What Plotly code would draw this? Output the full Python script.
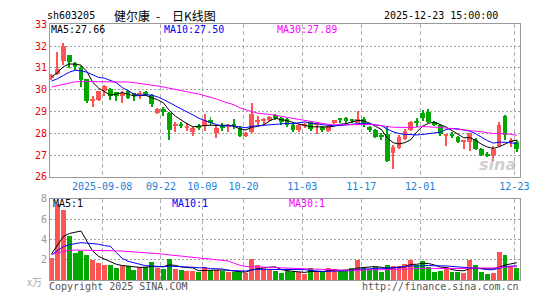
import plotly.graph_objects as go
import pandas as pd
import numpy as np

# ---------------- data ----------------
opens = [30.53, 30.71, 31.30, 31.59, 31.22, 30.96, 30.49, 29.47, 29.53, 29.93,
         30.00, 29.86, 29.72, 29.94, 29.82, 29.78, 29.90, 29.74, 28.91, 29.12,
         28.92, 28.31, 28.37, 28.22, 28.07, 28.28, 28.31, 28.59, 28.01, 28.30,
         28.30, 28.42, 28.22, 27.85, 28.05, 28.51, 28.59, 28.60, 28.83, 28.70,
         28.66, 28.39, 28.12, 28.30, 28.49, 28.37, 28.27, 28.10, 28.47, 28.69,
         28.71, 28.60, 28.47, 28.66, 28.27, 28.15, 27.88, 27.95, 27.10, 27.32,
         27.72, 28.12, 28.50, 28.90, 28.98, 28.49, 28.39, 27.88, 27.92, 27.80,
         27.60, 27.61, 27.69, 27.28, 27.00, 26.99, 27.40, 28.80, 27.60, 27.58]
highs = [30.70, 31.71, 32.15, 31.60, 31.25, 31.07, 30.50, 29.69, 29.94, 30.19,
         30.08, 29.90, 29.95, 29.97, 29.85, 29.94, 29.93, 29.80, 29.13, 29.20,
         28.96, 28.52, 28.50, 28.48, 28.29, 28.40, 28.86, 28.72, 28.37, 28.46,
         28.42, 28.65, 28.30, 28.05, 29.38, 28.79, 28.70, 28.77, 28.86, 28.73,
         28.68, 28.42, 28.40, 28.48, 28.56, 28.42, 28.34, 28.38, 28.60, 28.70,
         28.72, 28.64, 29.03, 28.74, 28.30, 28.17, 28.00, 28.34, 27.47, 27.90,
         28.17, 28.56, 28.71, 29.07, 29.10, 28.55, 28.42, 27.92, 28.05, 27.86,
         27.63, 28.00, 27.76, 27.32, 27.13, 27.40, 28.50, 28.82, 27.75, 27.68]
lows = [30.45, 30.65, 31.10, 31.00, 30.88, 30.09, 29.38, 29.20, 29.46, 29.68,
        29.53, 29.49, 29.40, 29.57, 29.48, 29.58, 29.72, 29.19, 28.86, 28.80,
        27.70, 28.06, 28.21, 28.08, 27.85, 28.14, 28.10, 28.33, 27.79, 28.08,
        28.06, 28.20, 27.80, 27.82, 28.00, 28.32, 28.38, 28.55, 28.62, 28.36,
        28.28, 28.06, 28.05, 28.22, 28.08, 27.97, 28.07, 28.05, 28.43, 28.45,
        28.42, 28.45, 28.45, 28.27, 28.05, 27.76, 27.66, 26.66, 26.37, 27.28,
        27.66, 28.10, 28.27, 28.53, 28.46, 28.30, 27.88, 27.40, 27.76, 27.54,
        27.28, 27.18, 27.22, 26.96, 26.90, 26.74, 27.35, 27.68, 27.38, 27.12]
closes = [30.62, 30.93, 31.98, 31.26, 31.04, 30.42, 29.45, 29.52, 29.91, 30.14,
          29.72, 29.71, 29.82, 29.61, 29.70, 29.81, 29.75, 29.31, 29.12, 28.97,
          28.12, 28.42, 28.35, 28.34, 28.25, 28.26, 28.58, 28.45, 28.24, 28.27,
          28.33, 28.30, 27.85, 28.02, 28.89, 28.53, 28.62, 28.74, 28.69, 28.50,
          28.39, 28.15, 28.35, 28.40, 28.19, 28.39, 28.13, 28.34, 28.58, 28.62,
          28.53, 28.58, 28.65, 28.45, 28.12, 27.80, 27.86, 26.71, 27.35, 27.83,
          28.11, 28.52, 28.48, 28.68, 28.49, 28.39, 27.95, 27.90, 27.89, 27.61,
          27.62, 27.98, 27.28, 26.99, 26.98, 27.29, 28.37, 27.90, 27.63, 27.25]
volumes = [2.18, 7.48, 6.90, 4.32, 2.65, 2.90, 2.52, 1.96, 1.70, 1.48,
           1.48, 1.23, 1.39, 1.39, 1.00, 1.32, 1.32, 1.77, 1.23, 1.10,
           2.14, 1.10, 1.00, 0.91, 0.91, 0.79, 1.32, 1.00, 1.00, 0.91,
           0.79, 0.79, 0.79, 0.72, 2.05, 1.48, 1.17, 1.00, 0.91, 0.69,
           0.91, 0.85, 0.79, 0.63, 1.17, 0.85, 0.85, 1.17, 1.07, 0.91,
           0.91, 1.17, 1.96, 1.23, 1.10, 1.32, 0.79, 1.48, 1.39, 1.39,
           1.58, 1.96, 1.55, 1.86, 1.32, 0.85, 0.91, 1.32, 0.85, 0.85,
           0.76, 1.96, 1.48, 0.79, 0.66, 0.76, 2.74, 2.52, 1.39, 1.23]

# moving-average values visible at the left edge (window reaches before the shown data)
ma5_head = [30.59, 30.78, 31.05, 31.18]
ma10_head = [30.39, 30.50, 30.65, 30.80, 30.89, 30.87, 30.80, 30.68, 30.56]
ma30_head = [30.12, 30.18, 30.25, 30.32, 30.36, 30.37, 30.37, 30.37, 30.37, 30.37,
             30.37, 30.37, 30.37, 30.35, 30.32, 30.29, 30.26, 30.22, 30.17, 30.12,
             30.06, 30.02, 29.96, 29.90, 29.85, 29.80, 29.73, 29.66, 29.57]
vma5_head = [2.6, 3.4, 4.3, 4.6]
vma10_head = [2.5, 2.9, 3.3, 3.5, 3.6, 3.7, 3.65, 3.6, 3.55]
vma30_head = [2.55, 2.70, 2.85, 2.95, 2.97, 2.97, 2.97, 2.97, 2.97, 2.97,
              2.95, 2.90, 2.87, 2.84, 2.80, 2.77, 2.74, 2.70, 2.62, 2.56,
              2.50, 2.45, 2.40, 2.35, 2.29, 2.24, 2.18, 2.12, 2.05]

header_labels = ["MA5:27.66", "MA10:27.50", "MA30:27.89"]
vol_labels = ["MA5:1", "MA10:1", "MA30:1"]
title_parts = ["健尔康", "-", "日K线图"]
tick_dates = ["2025-09-08", "2025-09-22", "2025-10-09", "2025-10-20",
              "2025-11-03", "2025-11-17", "2025-12-01", "2025-12-23"]
tick_texts = ["2025-09-08", "09-22", "10-09", "10-20", "11-03", "11-17", "12-01", "12-23"]

# trading days (Oct 1-8 national holiday closed)
days = pd.bdate_range("2025-08-26", "2025-12-23")
days = days[(days < "2025-10-01") | (days > "2025-10-08")]
dates = [d.strftime("%Y-%m-%d") for d in days]

# ---------------- derived ----------------
n = len(closes)
x = np.arange(n)
O, H, L, C, V = map(np.array, (opens, highs, lows, closes, volumes))


def ma(vals, w, head):
    s = pd.Series(vals).rolling(w).mean().to_numpy()
    s[:len(head)] = head
    return s


RED = "#ff5454"
GREEN = "#00a800"
up = C >= O
cols = np.where(up, RED, GREEN)

fig = go.Figure()

# wicks
fig.add_trace(go.Bar(x=x, y=H - L, base=L, width=0.17, marker=dict(color=cols, line_width=0),
                     xaxis="x", yaxis="y", hoverinfo="skip"))
# bodies
body_lo = np.minimum(O, C)
body_h = np.maximum(np.abs(C - O), 0.045)
fig.add_trace(go.Bar(x=x, y=body_h, base=body_lo, width=0.8, marker=dict(color=cols, line_width=0),
                     xaxis="x", yaxis="y"))

line_cols = ["#000000", "#0000ff", "#ff00ff"]
for w, head, c in zip((5, 10, 30), (ma5_head, ma10_head, ma30_head), line_cols):
    fig.add_trace(go.Scatter(x=x, y=ma(C, w, head), mode="lines", line=dict(color=c, width=1),
                             xaxis="x", yaxis="y"))

# volume
fig.add_trace(go.Bar(x=x, y=V, width=0.84, marker=dict(color=cols, line_width=0),
                     xaxis="x2", yaxis="y2"))
for w, head, c in zip((5, 10, 30), (vma5_head, vma10_head, vma30_head), line_cols):
    fig.add_trace(go.Scatter(x=x, y=ma(V, w, head), mode="lines", line=dict(color=c, width=1),
                             xaxis="x2", yaxis="y2"))

W, Hh = 545, 300
xdom = [51 / W, 529.5 / W]
tickpos = [dates.index(d) - 0.42 for d in tick_dates]
FONT = "DejaVu Sans Mono"

xcommon = dict(domain=xdom, range=[-0.25, 79.5], tickvals=tickpos, showgrid=True,
               gridcolor="#b0b0b0", griddash="4px,3px", gridwidth=1, zeroline=False,
               showline=True, mirror=True, linecolor="#999999", linewidth=1, ticks="",
               fixedrange=True)
fig.update_layout(
    width=W, height=Hh, margin=dict(l=0, r=0, t=0, b=0), autosize=False,
    paper_bgcolor="white", plot_bgcolor="white", showlegend=False,
    barmode="overlay", bargap=0,
    font=dict(family=FONT, size=10),
    xaxis=dict(**xcommon, anchor="y", ticktext=tick_texts,
               tickfont=dict(family=FONT, size=10, color="#1a80d6")),
    xaxis2=dict(**xcommon, anchor="y2", showticklabels=False),
    yaxis=dict(domain=[1 - 178 / Hh, 1 - 19 / Hh], range=[26, 33], dtick=1, tick0=26,
               showgrid=True, gridcolor="#a0a0a0", griddash="2px,2px", zeroline=False,
               showline=True, mirror=True, linecolor="#999999", linewidth=1, ticks="",
               tickfont=dict(family=FONT, size=10, color="#ee0000"), anchor="x"),
    yaxis2=dict(domain=[1 - 285.7 / Hh, 1 - 201 / Hh], range=[0, 8], tickvals=[2, 4, 6, 8],
                showgrid=True, gridcolor="#a0a0a0", griddash="2px,2px", zeroline=False,
                showline=True, mirror=True, linecolor="#999999", linewidth=1, ticks="",
                tickfont=dict(family=FONT, size=10, color="#999999"), anchor="x2"),
)


def ann(text, xp, yp, color="#000", size=10, anchor="left", family=FONT, **kw):
    fig.add_annotation(text=text, x=xp / W, y=1 - yp / Hh, xref="paper", yref="paper",
                       xanchor=anchor, yanchor="middle", showarrow=False, borderpad=0,
                       font=dict(family=family, size=size, color=color), **kw)


ann("sh603205", 47, 10)
for t, xp in zip(title_parts, (115, 158, 174)):
    ann(t, xp, 9.5, size=12, family="Noto Sans CJK SC")
ann("2025-12-23 15:00:00", 508, 10, anchor="right")

for t, xp, c in zip(header_labels, (51, 166, 281), line_cols):
    ann(t, xp, 24.5, color=c)
for t, xp, c in zip(vol_labels, (53, 174, 293), line_cols):
    ann(t, xp, 206, color=c)

ann("x万", 44, 287, color="#aaaaaa", size=10, anchor="right", family="Noto Sans CJK SC")
ann("Copyright 2025 SINA.COM", 49, 292, color="#555555")
ann("http://finance.sina.com.cn", 530, 292, color="#555555", anchor="right")
fig.add_annotation(text="<b><i>sina</i></b>", x=528 / W, y=1 - 165 / Hh, xref="paper", yref="paper",
                   xanchor="right", yanchor="middle", showarrow=False,
                   font=dict(family="DejaVu Sans", size=16, color="rgba(190,190,190,0.75)"))

fig.write_html("out.html")
